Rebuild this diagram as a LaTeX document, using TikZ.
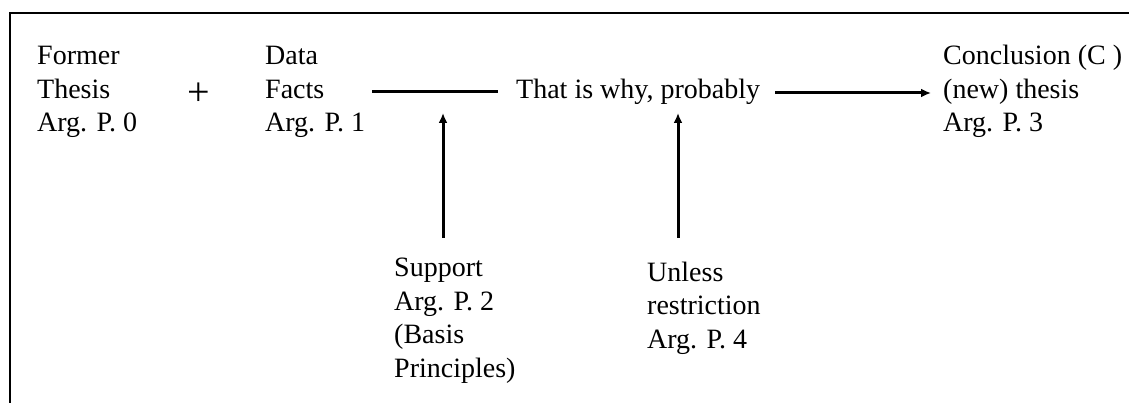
\documentclass[tikz,border=0pt]{standalone}
\usepackage{fontspec}
\setmainfont{Liberation Serif}
\usetikzlibrary{arrows.meta}
\begin{document}
\begin{tikzpicture}[x=1pt,y=-1pt,
  lbl/.style={inner sep=0pt,anchor=base west,align=left,font=\fontsize{28}{33.5}\selectfont},
  conn/.style={line width=3pt},
  arr/.style={conn,-{Latex[length=10pt,width=9pt]}},
  frame/.style={line width=2pt}]
\useasboundingbox (0,0) rectangle (1129,403);
\draw[frame] (1129,13) -- (10,13) -- (10,403);
\node[lbl] (former) at (37,132) {Former\\Thesis\\Arg. P. 0};
\node[inner sep=0pt,font=\fontsize{40}{40}\selectfont] (plus) at (199,94) {+};
\node[lbl] (data) at (265,132) {Data\\Facts\\Arg. P. 1};
\node[lbl] (why) at (516,99) {That is why, probably};
\node[lbl] (concl) at (943,132) {Conclusion (C )\\(new) thesis\\Arg. P. 3};
\node[lbl] (support) at (394,377) {Support\\Arg. P. 2\\(Basis\\Principles)};
\node[lbl] (unless) at (647,348) {Unless\\restriction\\Arg. P. 4};
\coordinate (l1a) at (372,92);
\coordinate (l1b) at (498,92);
\coordinate (l2a) at (775,93);
\coordinate (l2b) at (931,93);
\coordinate (s1) at (443,238);
\coordinate (s2) at (443,113);
\coordinate (u1) at (678,238);
\coordinate (u2) at (678,113);
\draw[conn] (l1a) -- (l1b);
\draw[arr] (l2a) -- (l2b);
\draw[arr] (s1) -- (s2);
\draw[arr] (u1) -- (u2);
\end{tikzpicture}
\end{document}
